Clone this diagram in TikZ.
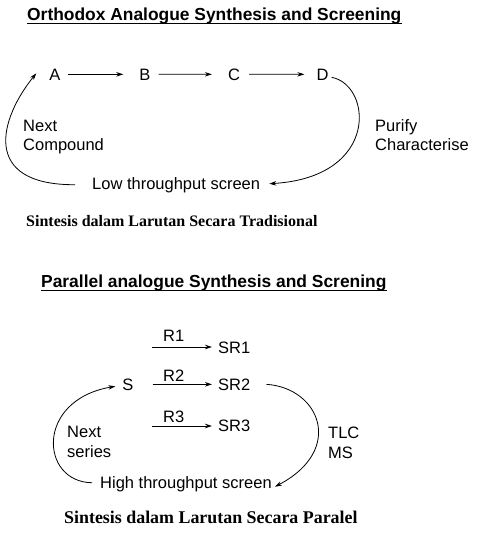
\documentclass[tikz,border=0pt]{standalone}
\usepackage{fontspec}
\setmainfont{Liberation Serif}
\setsansfont{Liberation Sans}
\usetikzlibrary{arrows.meta}
\begin{document}
\begin{tikzpicture}[x=1pt,y=-1pt,
  txt/.style={inner sep=0pt, anchor=base west, font=\sffamily\fontsize{16.5}{18}\selectfont},
  lett/.style={inner sep=0pt, anchor=base, font=\sffamily\fontsize{16.5}{18}\selectfont},
  ttl/.style={inner sep=0pt, anchor=base west, font=\sffamily\bfseries\fontsize{17.4}{20}\selectfont},
  cap1/.style={inner sep=0pt, anchor=base west, font=\rmfamily\bfseries\fontsize{16}{18}\selectfont},
  cap2/.style={inner sep=0pt, anchor=base west, font=\rmfamily\bfseries\fontsize{17.9}{20}\selectfont},
  arr/.style={line width=0.8pt, -{Stealth[length=7pt,width=4.5pt]}},
  uline/.style={line width=1.4pt}]
\useasboundingbox (0,0) rectangle (495,541);
\fill[white] (0,0) rectangle (495,541);

% ---- Orthodox ----
\node[ttl] (t1) at (27,20) {Orthodox Analogue Synthesis and Screening};
\draw[uline] ([yshift=-3.5pt]t1.base west) -- ([yshift=-3.5pt]t1.base east);

\node[lett] (A) at (55,80) {A};
\node[lett] (B) at (145,80) {B};
\node[lett] (C) at (234,80) {C};
\node[lett] (D) at (322.5,80) {D};
\draw[arr, shorten <=7pt, shorten >=16pt] (A.east) -- (B.west);
\draw[arr, shorten <=8pt, shorten >=16pt] (B.east) -- (C.west);
\draw[arr, shorten <=9pt, shorten >=12pt] (C.east) -- (D.west);

\node[txt] (next1) at (23,131) {Next};
\node[txt] (comp) at (23,150) {Compound};
\node[txt] (pur) at (375,131) {Purify};
\node[txt] (char) at (375,150) {Characterise};
\node[txt] (low) at (92,189) {Low throughput screen};

\draw[arr] ([xshift=-17pt,yshift=0pt]low.west) .. controls (-20,185) and (0,118) .. ([xshift=-13pt,yshift=1pt]A.west);
\draw[arr] ([xshift=3pt,yshift=-3pt]D.east) .. controls (372,85) and (380,177) .. ([xshift=9pt,yshift=1pt]low.east);

\node[cap1] (s1) at (26,226) {Sintesis dalam Larutan Secara Tradisional};

% ---- Parallel ----
\node[ttl] (t2) at (41,287) {Parallel analogue Synthesis and Screning};
\draw[uline] ([yshift=-3.5pt]t2.base west) -- ([yshift=-3.5pt]t2.base east);

\node[lett] (S) at (128,390) {S};
\node[txt] (SR1) at (218,353) {SR1};
\node[txt] (SR2) at (218,390) {SR2};
\node[txt] (SR3) at (218,431) {SR3};
\coordinate (r1s) at (152,347);
\coordinate (r3s) at (152,426);
\draw[arr, shorten >=6pt] (r1s) -- (r1s -| SR1.west);
\draw[arr, shorten <=19pt, shorten >=6pt] (S.east) -- (S.east -| SR2.west);
\draw[arr, shorten >=6pt] (r3s) -- (r3s -| SR3.west);
\node[txt] (R1) at (163,341) {R1};
\node[txt] (R2) at (163,381) {R2};
\node[txt] (R3) at (163,422) {R3};

\node[txt] (next2) at (67,437) {Next};
\node[txt] (ser) at (67,457) {series};
\node[txt] (tlc) at (328,438) {TLC};
\node[txt] (ms) at (328,458) {MS};
\node[txt] (high) at (100,488) {High throughput screen};

\draw[arr] ([xshift=-8pt,yshift=1pt]high.west) .. controls (40,482) and (35,400) .. ([xshift=-7pt,yshift=-2pt]S.west);
\draw[arr] ([xshift=16pt]SR2.east) .. controls (320,388) and (345,450) .. ([xshift=3pt,yshift=-3pt]high.east);

\node[cap2] (s2) at (64,523) {Sintesis dalam Larutan Secara Paralel};
\end{tikzpicture}
\end{document}
